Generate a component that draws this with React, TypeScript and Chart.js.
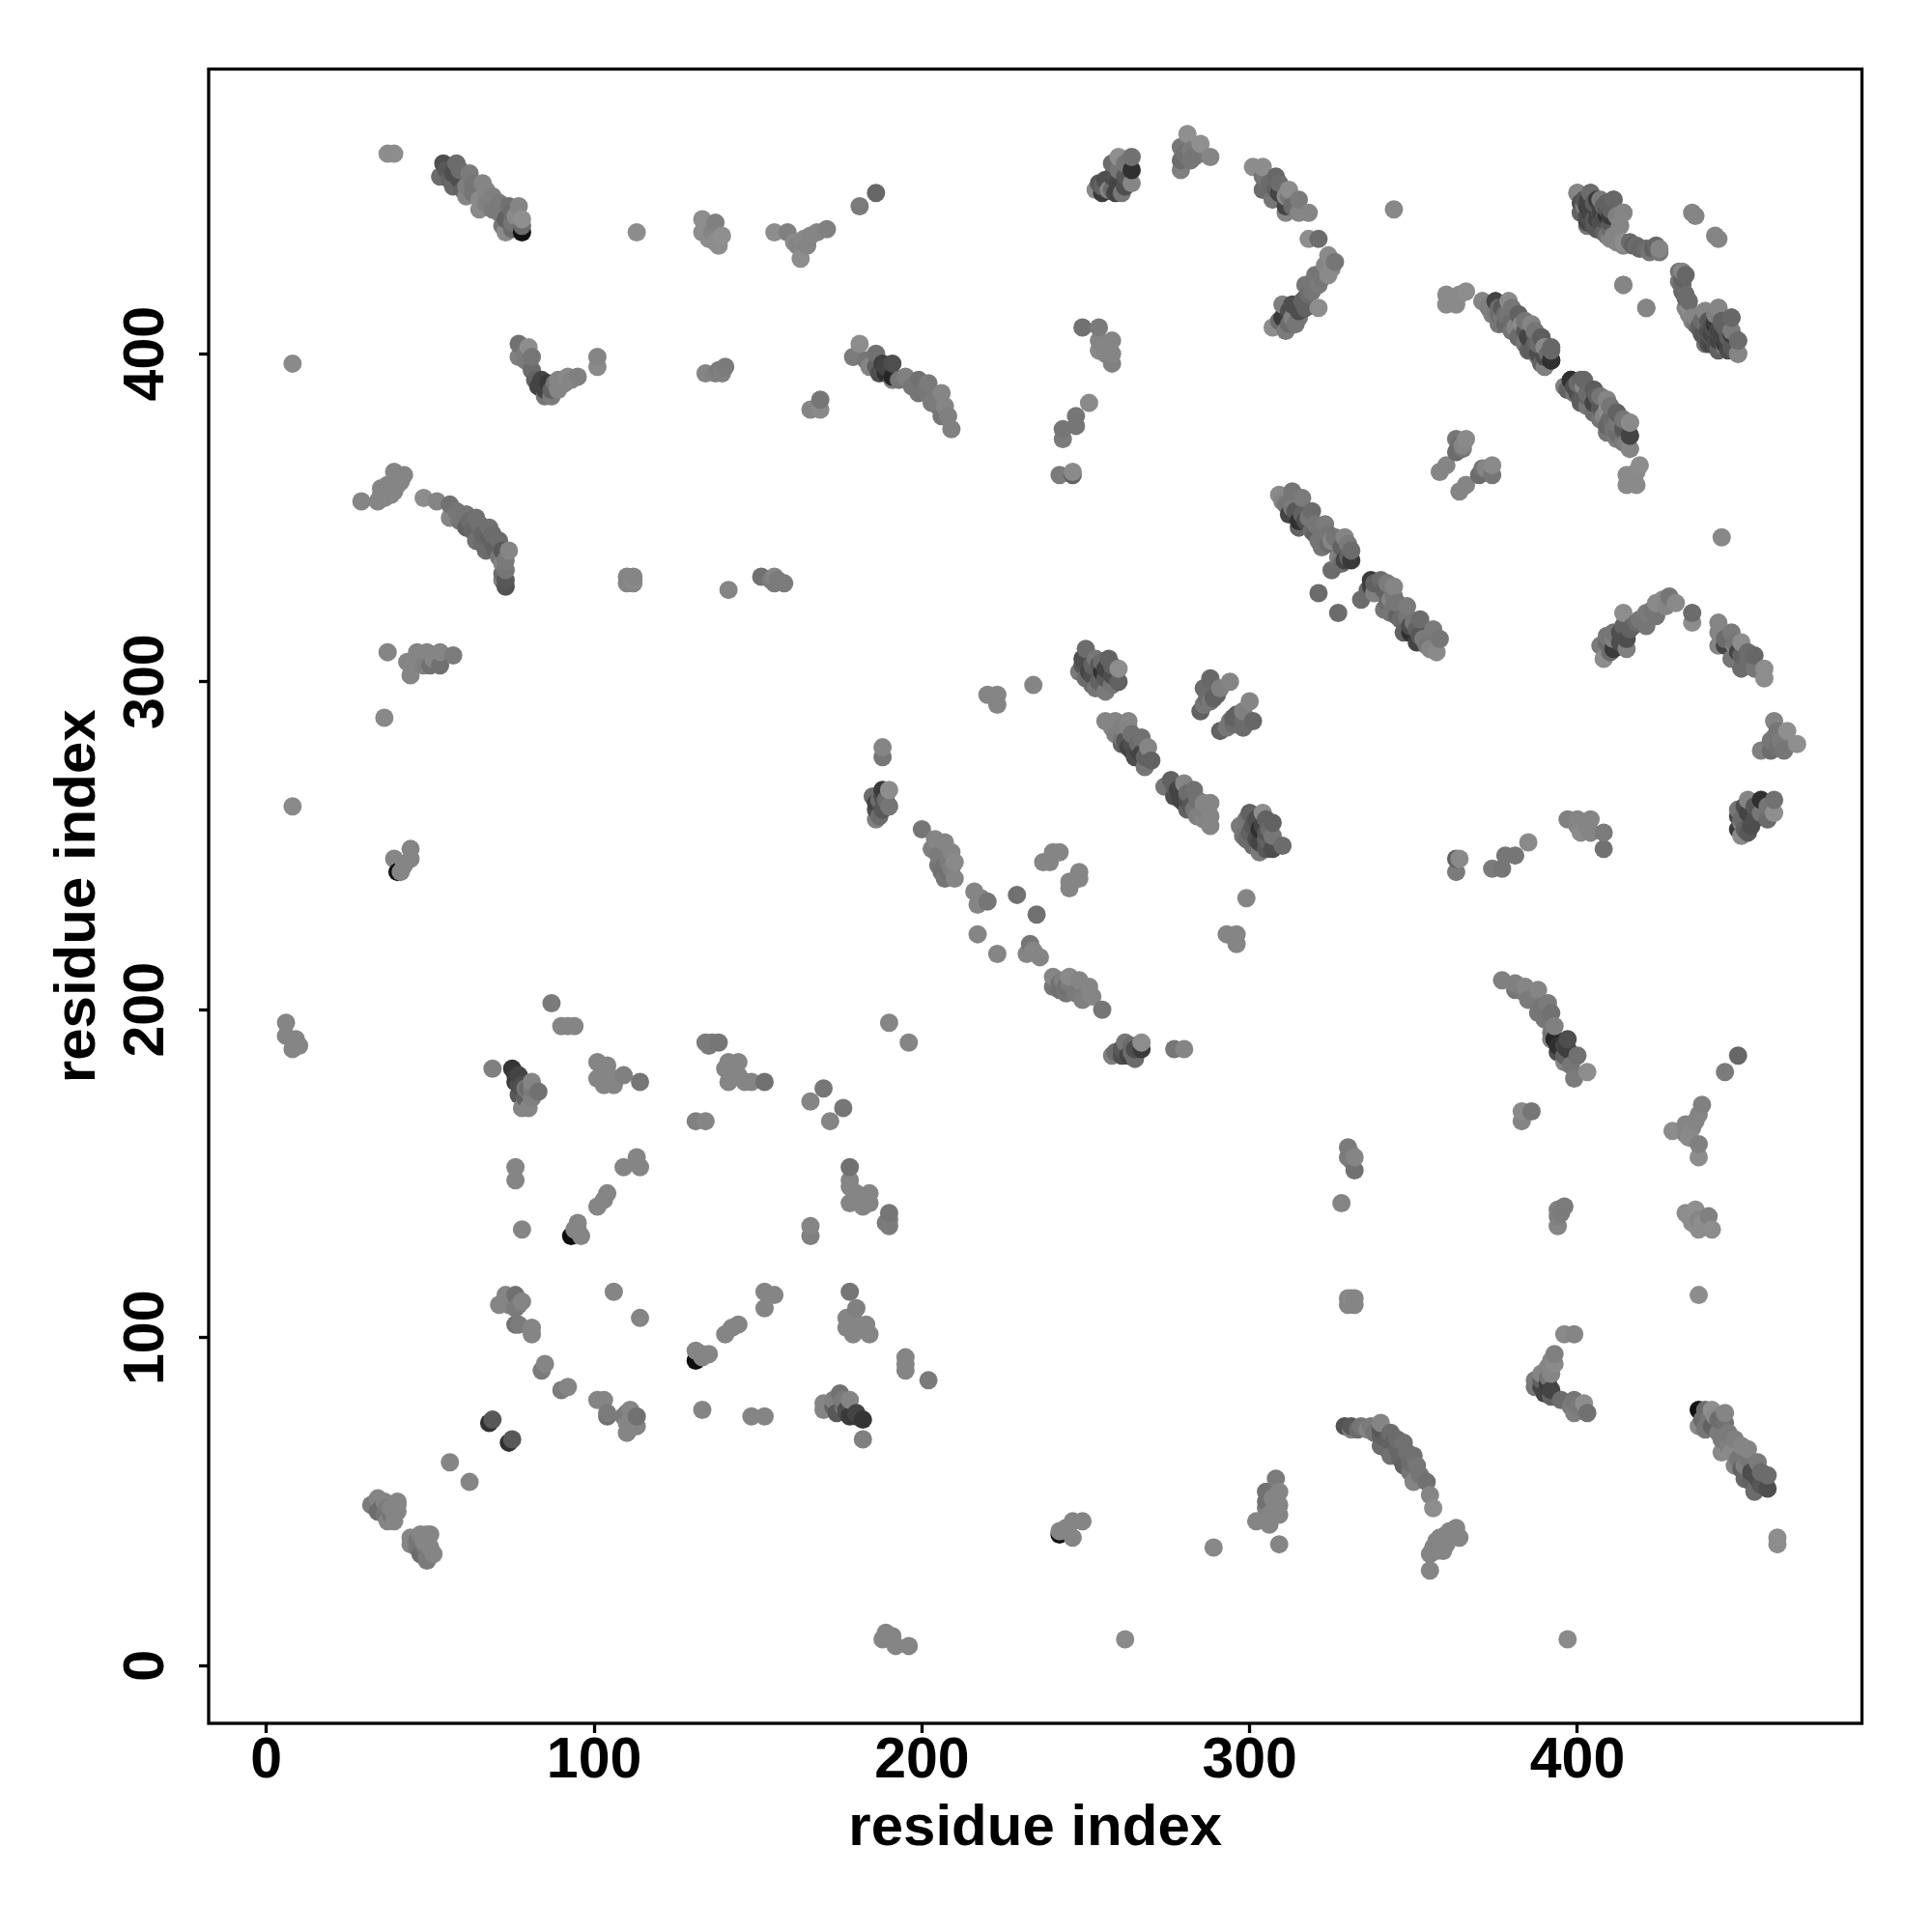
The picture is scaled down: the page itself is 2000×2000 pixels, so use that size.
import React, { useEffect, useRef } from "react";
import { Chart, registerables } from "chart.js";

Chart.register(...registerables);

type Contact = [number, number, number];

const tickValues = [0, 100, 200, 300, 400];
const axisTitle = "residue index";
const axisMin = -17.6;
const axisMax = 486.8;

// Each contact: residue i, residue j (i < j), signal level. The map is symmetric.
const isolated: Contact[] = [
  [8, 397, 130], [8, 262, 130], [36, 289, 128], [37, 461, 133], [39, 461, 133],
  [113, 437, 133], [344, 444, 128], [181, 445, 115], [186, 449, 95],
  [87, 202, 115], [414, 421, 125], [421, 414, 125],
];
const ridgeA: Contact[] = [
  [54, 458, 70], [58, 458, 100], [53, 454, 100], [57, 455, 70], [57, 451, 95], [62, 455, 115],
  [61, 451, 120], [61, 448, 125], [66, 452, 125], [65, 447, 130], [65, 444, 130], [69, 448, 120],
  [69, 444, 115], [74, 445, 105], [77, 445, 125], [73, 441, 90], [73, 437, 130], [78, 437, 10],
  [75, 440, 110], [78, 441, 135],
  [55, 456, 80], [56, 453, 90], [59, 456, 100], [59, 453, 70], [60, 450, 90], [63, 452, 110],
  [63, 449, 110], [67, 450, 125], [67, 446, 120], [71, 446, 115], [71, 443, 115], [75, 443, 100],
  [75, 438, 100], [76, 442, 130], [72, 439, 110], [78, 439, 100],
];
const topBand: Contact[] = [
  [133, 441, 133], [137, 440, 120], [133, 437, 133], [135, 435, 133], [138, 433, 133], [139, 436, 135],
  [155, 437, 133], [159, 437, 120], [163, 429, 133], [164, 435, 128], [166, 436, 125], [168, 437, 125], [171, 438, 120],
  [135, 438, 133], [136, 437, 125], [137, 434, 133], [161, 434, 130], [162, 433, 125], [165, 433, 125],
];
const ridgeB: Contact[] = [
  [260, 460, 135], [264, 460, 105], [264, 456, 40], [264, 452, 125], [260, 456, 110], [260, 452, 60],
  [256, 453, 70], [257, 450, 125], [253, 450, 130], [261, 449, 110], [255, 449, 50],
  [258, 458, 100], [262, 458, 110], [258, 454, 70], [262, 454, 80], [262, 451, 70], [258, 450, 100],
  [255, 451, 90], [254, 452, 80], [259, 449, 60],
  [281, 467, 135], [279, 463, 110], [285, 464, 135], [279, 459, 100], [288, 460, 125], [283, 460, 110], [279, 456, 120],
  [280, 461, 105], [282, 462, 115], [282, 459, 110], [285, 461, 110],
  [301, 457, 133], [304, 457, 133], [304, 454, 110], [304, 450, 100], [308, 454, 95], [308, 450, 90],
  [307, 447, 110], [312, 450, 133], [311, 445, 60], [311, 443, 125], [315, 447, 115], [315, 443, 125], [318, 443, 125], [311, 448, 130],
  [306, 452, 100], [309, 449, 60], [309, 452, 100], [312, 448, 110], [313, 445, 100],
];
const curveC: Contact[] = [
  [318, 435, 133], [321, 435, 100], [324, 430, 130], [326, 428, 110], [325, 426, 130], [324, 424, 130],
  [320, 424, 110], [321, 421, 115], [317, 421, 110], [317, 417, 90], [321, 414, 133], [317, 414, 90],
  [313, 415, 70], [310, 415, 120], [313, 411, 120], [315, 411, 110], [310, 411, 50], [307, 408, 133], [311, 407, 115],
  [323, 427, 125], [322, 423, 110], [319, 419, 110], [318, 418, 100], [316, 416, 90], [315, 413, 70],
  [312, 413, 70], [312, 409, 100], [314, 409, 110], [309, 410, 100],
];
const cornerD: Contact[] = [
  [400, 449, 110], [404, 449, 100], [403, 446, 60], [403, 442, 70], [406, 438, 100], [411, 447, 100],
  [406, 447, 50], [409, 442, 40], [414, 443, 130], [413, 439, 133], [410, 435, 125], [414, 433, 125],
  [417, 433, 90], [421, 432, 100], [425, 432, 125], [423, 432, 90], [402, 445, 115], [407, 443, 115],
  [435, 443, 125], [436, 442, 125],
  [401, 446, 70], [401, 443, 90], [403, 439, 110], [405, 445, 60], [405, 441, 80], [407, 440, 70],
  [408, 445, 90], [408, 441, 70], [410, 444, 90], [410, 439, 100], [411, 436, 125], [412, 442, 120],
  [412, 434, 125], [416, 434, 100], [419, 432, 95], [422, 431, 110],
];
const cornerE: Contact[] = [
  [431, 425, 110], [433, 424, 95], [432, 421, 100], [433, 418, 100], [434, 414, 133], [435, 411, 125],
  [439, 413, 125], [443, 414, 125], [438, 406, 80], [440, 410, 80], [442, 410, 50], [441, 403, 60],
  [445, 403, 50], [447, 411, 95], [445, 407, 60], [449, 404, 100], [449, 400, 125], [447, 407, 115],
  [437, 408, 90], [439, 405, 80], [440, 403, 70], [441, 406, 60], [443, 407, 60], [443, 404, 60],
  [444, 409, 80], [446, 405, 85], [446, 409, 90], [447, 402, 80], [438, 410, 100], [436, 409, 110],
];
const strandF: Contact[] = [
  [360, 418, 130], [360, 415, 130], [363, 415, 130], [364, 418, 130], [366, 419, 133],
  [371, 416, 125], [375, 416, 70], [374, 412, 120], [379, 416, 125], [378, 409, 105], [379, 412, 110],
  [382, 412, 100], [383, 409, 133], [386, 409, 133], [382, 405, 110], [385, 405, 60], [389, 405, 85],
  [385, 401, 90], [390, 402, 130], [392, 402, 95], [392, 398, 35], [389, 397, 90],
  [373, 414, 110], [376, 412, 100], [376, 409, 110], [377, 414, 80], [380, 410, 100], [380, 407, 110],
  [384, 407, 80], [387, 407, 110], [387, 403, 90], [388, 400, 70], [391, 400, 100], [390, 396, 120],
  [398, 392, 40], [397, 389, 90], [401, 392, 95], [402, 390, 130], [401, 386, 85], [405, 389, 85],
  [405, 385, 60], [405, 382, 100], [409, 386, 125], [408, 381, 125], [409, 378, 95], [412, 382, 90],
  [412, 378, 105], [412, 375, 115], [416, 379, 130], [416, 375, 60], [416, 371, 125],
  [399, 390, 70], [399, 388, 110], [403, 388, 100], [403, 384, 110], [406, 387, 90], [407, 383, 100],
  [407, 380, 110], [410, 384, 110], [410, 380, 100], [411, 377, 110], [414, 380, 110], [414, 376, 100],
  [415, 373, 120], [414, 373, 115],
];
const blockG: Contact[] = [
  [363, 374, 110], [366, 374, 130], [363, 370, 100], [365, 372, 125], [358, 364, 125], [360, 366, 125],
  [365, 371, 110], [364, 372, 100],
];
const strandH: Contact[] = [
  [309, 357, 130], [313, 358, 110], [316, 356, 115], [312, 351, 60], [315, 349, 40], [319, 352, 100],
  [315, 347, 90], [319, 346, 100], [323, 348, 115], [323, 344, 110], [322, 341, 110], [329, 344, 125],
  [328, 341, 90], [331, 340, 100], [331, 337, 50], [328, 336, 100], [321, 327, 100], [325, 334, 100],
  [310, 355, 125], [311, 354, 110], [313, 353, 115], [314, 352, 80], [316, 351, 90], [317, 349, 70],
  [318, 350, 110], [320, 348, 110], [320, 345, 90], [321, 343, 110], [324, 345, 110], [325, 343, 125],
  [324, 342, 100], [326, 344, 110], [327, 338, 120], [330, 338, 90], [329, 337, 60], [330, 342, 115],
];
const groupI: Contact[] = [
  [250, 310, 100], [249, 307, 70], [248, 303, 115], [253, 307, 110], [257, 307, 90], [252, 299, 100],
  [256, 297, 115], [254, 300, 90], [260, 300, 90], [260, 304, 133], [255, 303, 40], [251, 303, 60], [258, 302, 70],
  [249, 305, 80], [250, 301, 100], [252, 305, 90], [252, 302, 70], [254, 305, 80], [256, 304, 60],
  [256, 301, 80], [258, 305, 90], [253, 298, 110], [258, 299, 110], [255, 306, 100],
  [220, 296, 125], [223, 296, 125], [223, 293, 125], [234, 299, 125],
];
const groupJ: Contact[] = [
  [188, 280, 125], [188, 277, 110], [188, 267, 50], [190, 267, 133], [185, 265, 100], [190, 262, 110],
  [186, 261, 70], [186, 258, 120], [187, 264, 100],
  [186, 263, 60], [188, 265, 70], [188, 261, 80], [189, 264, 100], [187, 259, 100],
  [200, 255, 110], [204, 252, 125], [207, 251, 125], [203, 249, 120], [209, 248, 125], [210, 245, 130],
  [207, 244, 105], [207, 240, 110], [210, 240, 125], [216, 236, 125], [217, 232, 125], [220, 233, 110],
  [205, 247, 115], [205, 244, 110], [208, 245, 115], [208, 242, 105], [209, 243, 120], [206, 242, 105],
  [229, 235, 105], [217, 223, 125], [237, 245, 125], [240, 248, 125], [242, 248, 125], [239, 245, 125],
  [218, 234, 125], [190, 196, 125],
];
const groupK: Contact[] = [
  [285, 291, 90], [286, 293, 110], [288, 294, 110], [287, 295, 100], [288, 298, 100], [288, 301, 95],
  [291, 298, 120], [290, 296, 90], [294, 300, 125], [286, 298, 100], [289, 295, 90],
  [256, 288, 125], [259, 288, 125], [263, 288, 125], [259, 284, 120], [263, 286, 125], [264, 284, 105],
  [267, 283, 105], [263, 280, 60], [269, 280, 125], [265, 277, 70], [268, 274, 110], [270, 276, 90], [266, 279, 60],
  [258, 286, 125], [261, 286, 120], [261, 283, 110], [261, 281, 90], [264, 281, 70], [264, 279, 60],
  [266, 281, 100], [267, 278, 60], [268, 277, 90], [262, 282, 80],
];
const groupL: Contact[] = [
  [249, 408, 105], [254, 408, 115], [254, 404, 125], [258, 404, 125], [254, 401, 130], [258, 400, 125], [258, 397, 120],
  [256, 403, 125], [256, 400, 125],
  [251, 385, 130], [247, 381, 110], [247, 378, 110], [243, 377, 110], [243, 374, 115], [246, 363, 90],
  [242, 363, 115], [246, 364, 130],
];
const hookM: Contact[] = [
  [77, 403, 105], [80, 402, 133], [77, 399, 120], [81, 399, 110], [79, 398, 115], [81, 395, 100],
  [83, 390, 60], [86, 391, 50], [87, 387, 115], [85, 387, 110], [89, 392, 125], [91, 391, 125],
  [79, 400, 115], [82, 392, 90], [84, 392, 60], [85, 389, 60], [87, 389, 90], [88, 391, 110], [89, 389, 125], [93, 392, 125],
  [92, 393, 130], [95, 393, 120], [101, 399, 125], [101, 396, 130],
  [134, 394, 125], [138, 395, 115], [140, 396, 115], [137, 394, 120], [139, 394, 120],
];
const arcN: Contact[] = [
  [181, 403, 133], [179, 399, 115], [186, 400, 105], [184, 396, 125], [188, 397, 55], [191, 397, 70],
  [189, 394, 40], [191, 393, 30], [191, 392, 120], [195, 393, 120], [199, 392, 105], [202, 391, 115],
  [199, 388, 110], [206, 388, 125], [203, 385, 115], [207, 384, 125], [208, 381, 120], [206, 381, 110], [209, 377, 120],
  [183, 398, 110], [186, 396, 90], [187, 394, 70], [189, 396, 60], [193, 392, 110], [197, 390, 110],
  [201, 389, 110], [204, 387, 115], [205, 384, 115],
  [169, 386, 110], [169, 383, 130], [166, 383, 125],
];
const arcO: Contact[] = [
  [29, 355, 125], [34, 355, 125], [35, 357, 125], [36, 358, 125], [39, 358, 125], [40, 363, 125],
  [42, 363, 125], [39, 364, 125], [39, 361, 125], [35, 359, 125],
  [37, 360, 125], [36, 356, 125], [38, 357, 125], [41, 361, 125], [40, 360, 125],
  [48, 356, 133], [52, 355, 125], [56, 354, 105], [56, 350, 125], [61, 351, 110], [64, 350, 105],
  [61, 347, 90], [64, 343, 105], [68, 347, 105], [67, 340, 100], [68, 344, 90], [71, 343, 100],
  [72, 340, 80], [74, 340, 125], [73, 337, 115], [72, 336, 125], [72, 331, 120], [73, 331, 80], [73, 329, 75],
  [58, 352, 110], [59, 349, 110], [62, 349, 100], [63, 346, 95], [65, 348, 105], [66, 345, 95],
  [66, 342, 100], [69, 345, 100], [69, 342, 90], [70, 340, 90], [71, 338, 110], [73, 334, 110], [72, 333, 100],
];
const rowP: Contact[] = [
  [37, 309, 125], [43, 306, 125], [44, 302, 125], [46, 309, 125], [49, 309, 125], [53, 309, 125], [57, 308, 115],
  [50, 305, 105], [53, 305, 105], [46, 306, 125], [47, 307, 125], [48, 305, 120], [51, 307, 125], [44, 305, 125],
  [110, 332, 125], [112, 331, 130], [112, 330, 125], [110, 330, 125], [112, 332, 125],
  [141, 328, 125], [151, 332, 105], [155, 332, 125], [154, 331, 115], [156, 331, 115],
  [155, 330, 115], [158, 330, 115],
  [44, 249, 125], [40, 242, 10], [39, 246, 125], [44, 246, 125], [41, 242, 125], [42, 244, 125],
];
const lowerQ: Contact[] = [
  [6, 196, 125], [6, 192, 125], [9, 191, 125], [10, 189, 125], [8, 188, 125],
  [90, 195, 125], [92, 195, 125], [94, 195, 125],
  [69, 182, 120], [75, 182, 45], [77, 180, 60], [76, 178, 50], [81, 178, 125], [79, 176, 110],
  [83, 175, 105], [80, 170, 125], [78, 170, 125], [77, 174, 80], [81, 173, 120],
  [78, 177, 70], [80, 176, 100], [79, 173, 90], [81, 176, 115], [79, 172, 125], [77, 177, 70], [76, 180, 50],
  [101, 184, 125], [104, 183, 125], [101, 179, 125], [103, 177, 125], [106, 177, 125], [109, 180, 120], [114, 178, 110],
  [102, 180, 125], [104, 179, 125], [106, 179, 125],
  [134, 190, 115], [136, 190, 115], [138, 190, 110], [135, 189, 115],
  [141, 184, 125], [144, 184, 125], [144, 180, 125], [142, 182, 125], [143, 180, 125], [146, 178, 125], [140, 182, 125],
  [141, 178, 125], [148, 178, 125], [152, 178, 105],
  [166, 172, 125], [170, 176, 110], [131, 166, 120], [134, 166, 125],
];
const lowerR: Contact[] = [
  [76, 152, 125], [76, 148, 125], [78, 133, 125], [113, 155, 125], [109, 152, 125], [114, 152, 125],
  [104, 144, 125], [103, 142, 125], [101, 140, 125], [95, 135, 125], [93, 131, 5], [96, 131, 125], [94, 133, 125], [95, 133, 125],
  [76, 113, 105], [73, 113, 125], [71, 110, 125], [76, 109, 115], [76, 104, 105], [81, 103, 125], [81, 101, 125],
  [77, 110, 115], [75, 111, 125], [74, 110, 125], [78, 111, 125], [77, 104, 115],
  [106, 114, 125], [85, 92, 125], [84, 90, 115],
];
const diagonalS: Contact[] = [
  [69, 75, 80], [68, 74, 40], [56, 62, 125],
  [34, 51, 125], [32, 49, 115], [35, 48, 100], [40, 50, 125], [40, 47, 125], [37, 44, 125], [38, 46, 110],
  [33, 49, 115], [34, 47, 100], [36, 46, 110], [38, 48, 125], [36, 50, 125], [39, 44, 125], [40, 49, 125], [37, 48, 115],
];

const upperContacts: Contact[] = [
  ...isolated, ...ridgeA, ...topBand, ...ridgeB, ...curveC, ...cornerD, ...cornerE, ...strandF, ...blockG,
  ...strandH, ...groupI, ...groupJ, ...groupK, ...groupL, ...hookM, ...arcN, ...arcO, ...rowP, ...lowerQ,
  ...lowerR, ...diagonalS,
];

const mirrored: Contact[] = upperContacts
  .flatMap(([i, j, s]): Contact[] => [[i, j, s], [j, i, s]])
  .sort((a, b) => a[0] - b[0] || a[1] - b[1]);

const framePlugin = {
  id: "frame",
  afterDatasetsDraw(chart: any) {
    const { ctx, chartArea: a } = chart;
    ctx.save();
    ctx.strokeStyle = "#000";
    ctx.lineWidth = 3.3;
    ctx.strokeRect(a.left, a.top, a.right - a.left, a.bottom - a.top);
    ctx.restore();
  },
};

export default function App() {
  const ref = useRef<HTMLCanvasElement>(null);
  useEffect(() => {
    document.body.style.margin = "0";
    const tickFont = { family: "'Liberation Sans'", size: 59, weight: "bold" as const };
    const titleFont = { family: "'Liberation Sans'", size: 60, weight: "bold" as const };
    const setTicks = (axis: any) => {
      axis.ticks = tickValues.map((value) => ({ value }));
    };
    const grid = { drawOnChartArea: false, tickLength: 10, tickWidth: 3.3, tickColor: "#000" };
    const chart = new Chart(ref.current!, {
      type: "scatter",
      data: {
        datasets: [
          {
            data: mirrored.map(([x, y]) => ({ x, y })),
            pointRadius: 9.5,
            pointBorderWidth: 0,
            pointBackgroundColor: mirrored.map(([, , s]) => `rgb(${s + 8},${s + 8},${s + 8})`),
            showLine: false,
          },
        ],
      },
      plugins: [framePlugin],
      options: {
        animation: false,
        responsive: false,
        layout: { padding: { top: 71.5, right: 72.5, left: 0, bottom: 0 } },
        plugins: { legend: { display: false }, tooltip: { enabled: false } },
        scales: {
          x: {
            type: "linear",
            min: axisMin,
            max: axisMax,
            afterBuildTicks: setTicks,
            afterFit: (s: any) => { s.height = 216; },
            grid,
            border: { display: false },
            ticks: { color: "#000", font: tickFont, padding: -6, maxRotation: 0, minRotation: 0, callback: (v: any) => String(v) },
            title: { display: true, text: axisTitle, color: "#000", font: titleFont, padding: { top: 0, bottom: 71 } },
          },
          y: {
            type: "linear",
            min: axisMin,
            max: axisMax,
            afterBuildTicks: setTicks,
            afterFit: (s: any) => { s.width = 216; },
            grid,
            border: { display: false },
            ticks: { color: "#000", font: tickFont, padding: 4.5, minRotation: 90, maxRotation: 90, crossAlign: "center", callback: (v: any) => String(v) },
            title: { display: true, text: axisTitle, color: "#000", font: titleFont, padding: { top: 45, bottom: 0 } },
          },
        },
      },
    });
    return () => chart.destroy();
  }, []);
  return <canvas ref={ref} width={2000} height={2000} style={{ display: "block" }} />;
}
